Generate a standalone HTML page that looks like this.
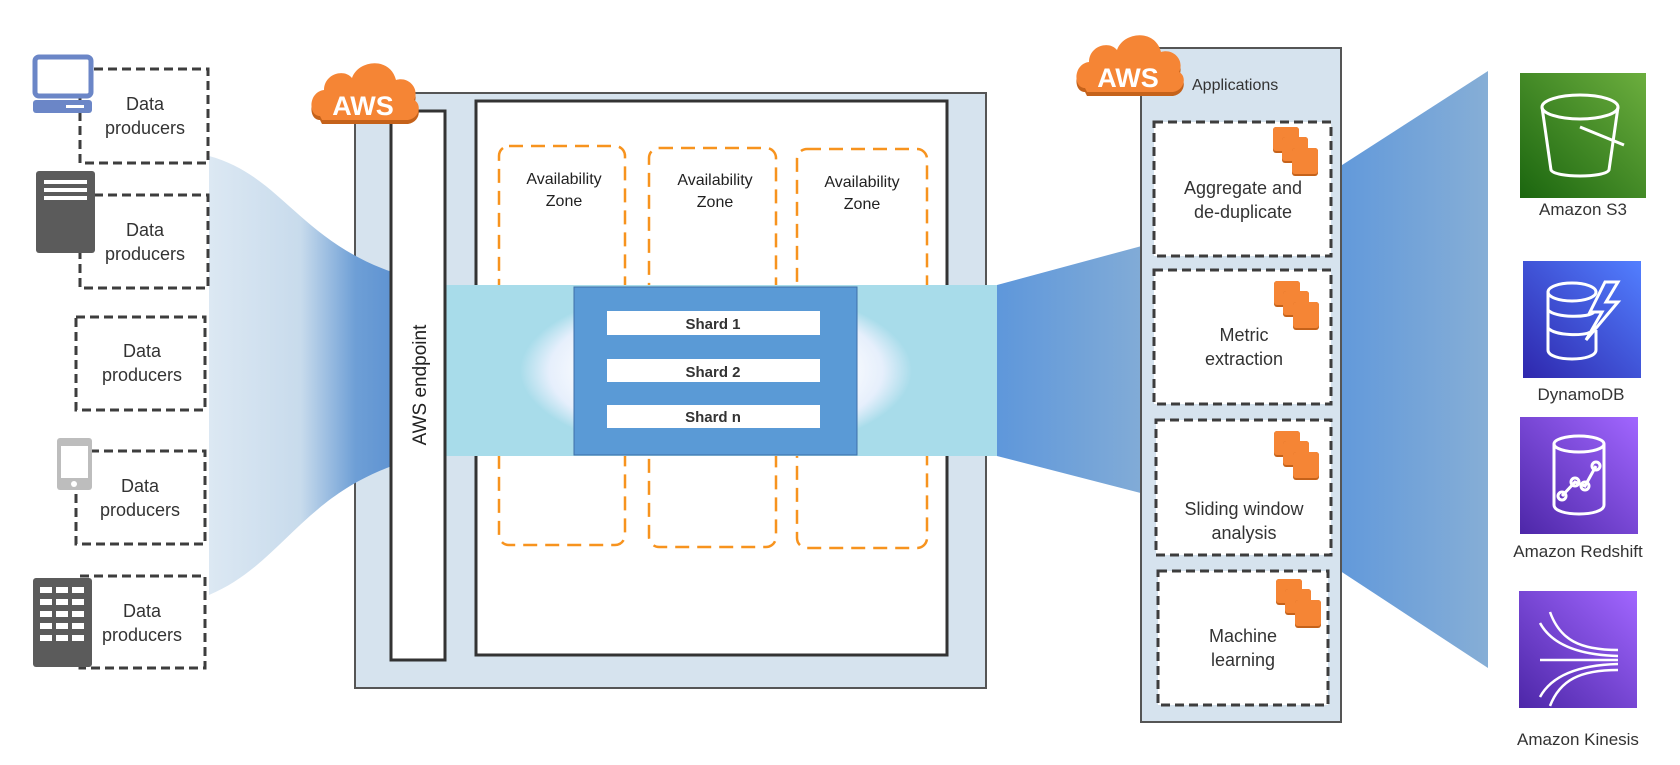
<!DOCTYPE html>
<html><head><meta charset="utf-8"><style>
html,body{margin:0;padding:0;background:#fff;}
svg{display:block;font-family:"Liberation Sans","DejaVu Sans",sans-serif;}
</style></head><body>
<svg width="1680" height="765" viewBox="0 0 1680 765" xmlns="http://www.w3.org/2000/svg">
<defs>
<linearGradient id="lf" x1="209" x2="392" y1="0" y2="0" gradientUnits="userSpaceOnUse">
<stop offset="0" stop-color="#dce8f3"/><stop offset="0.5" stop-color="#c8dbec"/><stop offset="0.8" stop-color="#6e9fd6"/><stop offset="1" stop-color="#5f93d2"/>
</linearGradient>
<linearGradient id="rf" x1="0" x2="1" y1="0" y2="0">
<stop offset="0" stop-color="#5e97db"/><stop offset="1" stop-color="#86aed6"/>
</linearGradient>
<radialGradient id="glow" cx="0.5" cy="0.5" r="0.5">
<stop offset="0.6" stop-color="#ffffff"/><stop offset="0.85" stop-color="#e6effc"/><stop offset="1" stop-color="#a8dcea"/>
</radialGradient>
<linearGradient id="s3" x1="0" y1="1" x2="1" y2="0"><stop offset="0" stop-color="#1b660f"/><stop offset="1" stop-color="#6cae3e"/></linearGradient>
<linearGradient id="ddb" x1="0" y1="1" x2="1" y2="0"><stop offset="0" stop-color="#2e27ad"/><stop offset="1" stop-color="#527fff"/></linearGradient>
<linearGradient id="pur" x1="0" y1="1" x2="1" y2="0"><stop offset="0" stop-color="#4d27a8"/><stop offset="1" stop-color="#a166ff"/></linearGradient>
<g id="cloud">
<path d="M10,62 C-2,62 -2,38 14,36 C14,20 34,14 42,24 C48,6 80,2 86,26 C98,22 110,34 104,46 C112,50 110,64 98,66 L12,66 Z" fill="#c5621a"/>
<path d="M10,58 C-2,58 -2,34 14,32 C14,16 34,10 42,20 C48,2 80,-2 86,22 C98,18 110,30 104,42 C112,46 110,60 98,62 L12,62 Z" fill="#f58535"/>
</g>
<g id="stack">
<rect x="0" y="0" width="26" height="26" rx="3" fill="#c5621a"/><rect x="0" y="0" width="26" height="24" rx="3" fill="#f58535"/>
<rect x="9" y="10" width="26" height="26" rx="3" fill="#c5621a"/><rect x="9" y="10" width="26" height="24" rx="3" fill="#f58535"/>
<rect x="19" y="21" width="26" height="28" rx="3" fill="#c5621a"/><rect x="19" y="21" width="26" height="26" rx="3" fill="#f58535"/>
</g>
</defs>

<!-- outer AWS box -->
<rect x="355" y="93" width="631" height="595" fill="#d6e3ee" stroke="#555" stroke-width="2"/>

<!-- left funnel -->
<path d="M209,156 C280,175 300,240 392,272 L392,466 C300,500 280,565 209,595 Z" fill="url(#lf)"/>

<!-- data producer boxes -->
<g fill="#fff" stroke="#3d3d3d" stroke-width="3" stroke-dasharray="9,5">
<rect x="80" y="69" width="128" height="94"/>
<rect x="80" y="195" width="128" height="93"/>
<rect x="76" y="317" width="129" height="93"/>
<rect x="76" y="451" width="129" height="93"/>
<rect x="80" y="576" width="125" height="92"/>
</g>
<g font-size="18" fill="#333" text-anchor="middle">
<text x="145" y="110">Data</text><text x="145" y="134">producers</text>
<text x="145" y="236">Data</text><text x="145" y="260">producers</text>
<text x="142" y="357">Data</text><text x="142" y="381">producers</text>
<text x="140" y="492">Data</text><text x="140" y="516">producers</text>
<text x="142" y="617">Data</text><text x="142" y="641">producers</text>
</g>
<!-- icons -->
<rect x="35" y="57" width="56" height="39" rx="4" fill="#fff" stroke="#6b86c7" stroke-width="5"/>
<rect x="33" y="100" width="59" height="13" rx="3" fill="#6b86c7"/><rect x="66" y="105" width="18" height="3" fill="#fff"/>
<rect x="36" y="171" width="59" height="82" rx="3" fill="#5b5b5b"/>
<rect x="44" y="180" width="43" height="4" fill="#fff"/><rect x="44" y="188" width="43" height="4" fill="#fff"/><rect x="44" y="196" width="43" height="4" fill="#fff"/>
<rect x="57" y="438" width="35" height="52" rx="3" fill="#bdbdbd"/><rect x="61" y="446" width="27" height="32" fill="#fff"/><circle cx="74" cy="484" r="3" fill="#fff"/>
<rect x="33" y="578" width="59" height="89" rx="3" fill="#5b5b5b"/>
<g fill="#fff">
<rect x="40" y="587" width="12" height="6"/><rect x="56" y="587" width="12" height="6"/><rect x="72" y="587" width="12" height="6"/>
<rect x="40" y="599" width="12" height="6"/><rect x="56" y="599" width="12" height="6"/><rect x="72" y="599" width="12" height="6"/>
<rect x="40" y="611" width="12" height="6"/><rect x="56" y="611" width="12" height="6"/><rect x="72" y="611" width="12" height="6"/>
<rect x="40" y="623" width="12" height="6"/><rect x="56" y="623" width="12" height="6"/><rect x="72" y="623" width="12" height="6"/>
<rect x="40" y="635" width="12" height="6"/><rect x="56" y="635" width="12" height="6"/><rect x="72" y="635" width="12" height="6"/>
</g>

<rect x="476" y="101" width="471" height="554" fill="#fff" stroke="#333" stroke-width="3"/>
<!-- AZs -->
<g fill="none" stroke="#f7931e" stroke-width="2.5" stroke-dasharray="14,8">
<rect x="499" y="146" width="126" height="399" rx="10"/>
<rect x="649" y="148" width="127" height="399" rx="10"/>
<rect x="797" y="149" width="130" height="399" rx="10"/>
</g>
<g font-size="16" fill="#222" text-anchor="middle">
<text x="564" y="184">Availability</text><text x="564" y="206">Zone</text>
<text x="715" y="185">Availability</text><text x="715" y="207">Zone</text>
<text x="862" y="187">Availability</text><text x="862" y="209">Zone</text>
</g>
<!-- band -->
<rect x="445" y="285" width="552" height="171" fill="#a8dcea"/>
<rect x="520" y="285" width="392" height="171" fill="url(#glow)"/>
<rect x="574" y="287" width="283" height="168" fill="#5a9ad6" stroke="#3e6fa8" stroke-width="1"/>
<g fill="#fff"><rect x="607" y="311" width="213" height="24"/><rect x="607" y="359" width="213" height="23"/><rect x="607" y="405" width="213" height="23"/></g>
<g font-size="15" font-weight="bold" fill="#333" text-anchor="middle">
<text x="713" y="329">Shard 1</text><text x="713" y="377">Shard 2</text><text x="713" y="422">Shard n</text>
</g>
<!-- endpoint -->
<rect x="391" y="111" width="54" height="549" fill="#fff" stroke="#333" stroke-width="3"/>
<text transform="translate(426,385) rotate(-90)" font-size="19" fill="#222" text-anchor="middle">AWS endpoint</text>
<use href="#cloud" x="310" y="58"/>
<text x="363" y="115" font-size="27" font-weight="bold" fill="#fff" text-anchor="middle">AWS</text>

<!-- right funnels -->
<path d="M997,285 L1160,241 L1160,498 L997,456 Z" fill="url(#rf)"/>
<path d="M1325,176 L1488,71 L1488,668 L1325,561 Z" fill="url(#rf)"/>

<!-- applications -->
<rect x="1141" y="48" width="200" height="674" fill="#d6e3ee" stroke="#555" stroke-width="2"/>
<text x="1192" y="90" font-size="16" fill="#333">Applications</text>
<g fill="#fff" stroke="#3d3d3d" stroke-width="3" stroke-dasharray="9,5">
<rect x="1154" y="122" width="177" height="134"/>
<rect x="1154" y="270" width="177" height="134"/>
<rect x="1156" y="420" width="175" height="135"/>
<rect x="1158" y="571" width="170" height="134"/>
</g>
<use href="#stack" x="1273" y="127"/>
<use href="#stack" x="1274" y="281"/>
<use href="#stack" x="1274" y="431"/>
<use href="#stack" x="1276" y="579"/>
<g font-size="18" fill="#333" text-anchor="middle">
<text x="1243" y="194">Aggregate and</text><text x="1243" y="218">de-duplicate</text>
<text x="1244" y="341">Metric</text><text x="1244" y="365">extraction</text>
<text x="1244" y="515">Sliding window</text><text x="1244" y="539">analysis</text>
<text x="1243" y="642">Machine</text><text x="1243" y="666">learning</text>
</g>
<use href="#cloud" x="1075" y="30"/>
<text x="1128" y="87" font-size="27" font-weight="bold" fill="#fff" text-anchor="middle">AWS</text>

<!-- service icons -->
<rect x="1520" y="73" width="126" height="125" fill="url(#s3)"/>
<g fill="none" stroke="#fff" stroke-width="3">
<ellipse cx="1580" cy="107" rx="38" ry="12"/>
<path d="M1542,107 L1551,170 C1555,178 1605,178 1609,170 L1618,107"/>
<path d="M1580,127 L1624,145"/>
</g>
<text x="1583" y="215" font-size="17" fill="#333" text-anchor="middle">Amazon S3</text>

<rect x="1523" y="261" width="118" height="117" fill="url(#ddb)"/>
<g fill="none" stroke="#fff" stroke-width="3">
<ellipse cx="1572" cy="292" rx="24" ry="9"/>
<path d="M1548,292 L1548,350 C1548,362 1596,362 1596,350 L1596,330"/>
<path d="M1548,310 C1555,318 1590,318 1594,312 M1548,328 C1555,336 1585,336 1590,332"/>
<path d="M1605,282 L1590,312 L1602,312 L1586,340 L1618,302 L1606,302 L1618,282 Z"/>
</g>
<text x="1581" y="400" font-size="17" fill="#333" text-anchor="middle">DynamoDB</text>

<rect x="1520" y="417" width="118" height="117" fill="url(#pur)"/>
<g fill="none" stroke="#fff" stroke-width="3">
<ellipse cx="1579" cy="444" rx="25" ry="8"/>
<path d="M1554,444 L1554,505 C1554,517 1604,517 1604,505 L1604,444"/>
<path d="M1562,496 L1575,482 L1585,486 L1596,466"/>
<circle cx="1562" cy="496" r="4"/><circle cx="1575" cy="482" r="4"/><circle cx="1585" cy="486" r="4"/><circle cx="1596" cy="466" r="4"/>
</g>
<text x="1578" y="557" font-size="17" fill="#333" text-anchor="middle">Amazon Redshift</text>

<rect x="1519" y="591" width="118" height="117" fill="url(#pur)"/>
<g fill="none" stroke="#fff" stroke-width="2.5">
<path d="M1550,612 C1560,640 1580,650 1618,650"/>
<path d="M1540,623 C1552,645 1580,655 1618,656"/>
<path d="M1540,660 L1618,660"/>
<path d="M1540,697 C1552,675 1580,665 1618,664"/>
<path d="M1550,706 C1560,680 1580,670 1618,670"/>
</g>
<text x="1578" y="745" font-size="17" fill="#333" text-anchor="middle">Amazon Kinesis</text>
</svg>
</body></html>
